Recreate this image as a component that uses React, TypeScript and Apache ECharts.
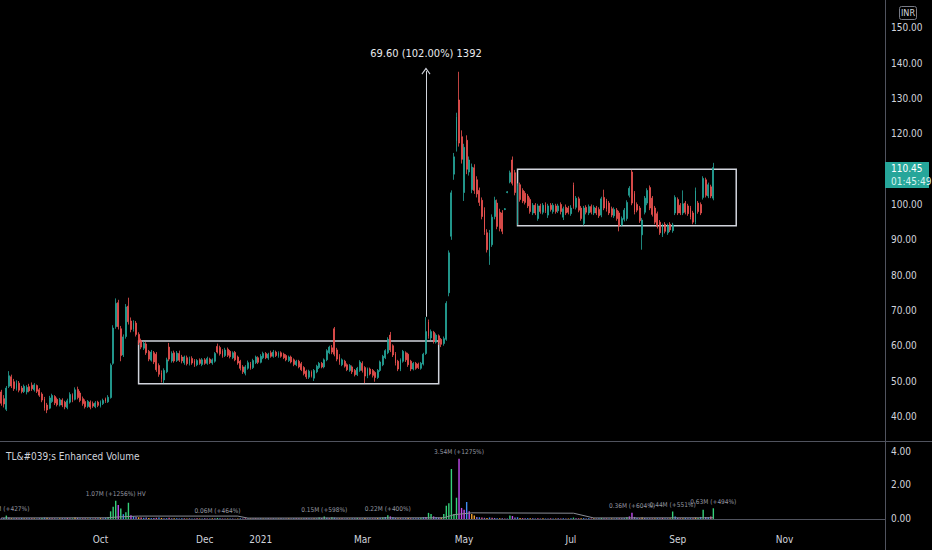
import React, { useEffect, useRef } from 'react';
import * as echarts from 'echarts';

// slots on the time axis (traded days plus empty space on the right)
const SLOTS = 348;
const monthTicks: Array<[number, string]> = [
  [39, 'Oct'], [80, 'Dec'], [102, '2021'], [142, 'Mar'],
  [182, 'May'], [224, 'Jul'], [266, 'Sep'], [308, 'Nov'],
];
// 110.00 sits under the last-price tag, so it is not listed
const priceTicks = [40, 50, 60, 70, 80, 90, 100, 120, 130, 140, 150];
const volumeTicks = [0, 2, 4];

// [open, close, low, high]
const candles = [
  [46.9,43.7,43.0,47.5],[45.0,43.5,42.5,46.0],[42.0,48.0,41.5,48.6],[48.5,51.5,48.0,52.8],[51.2,48.6,48.0,51.8],[49.8,47.8,47.2,50.6],[47.8,49.4,47.3,50.2],[49.4,47.4,46.8,50.0],[48.0,47.0,46.5,48.6],[47.0,48.5,46.6,49.0],
  [46.9,48.2,46.2,48.8],[48.4,47.2,46.8,49.2],[48.8,47.8,47.2,49.6],[47.5,48.9,47.0,49.4],[48.7,47.1,46.6,49.0],[47.5,46.0,45.5,48.0],[46.3,44.6,44.0,46.8],[45.0,42.2,41.6,45.5],[43.2,41.8,40.9,43.8],[42.3,45.2,42.0,45.8],
  [44.2,45.9,43.8,46.4],[45.6,43.8,43.2,46.0],[44.8,43.3,42.8,45.3],[43.2,44.7,42.8,45.2],[44.6,43.2,42.6,45.1],[44.0,42.7,42.0,44.4],[42.5,44.4,42.0,45.0],[44.0,46.2,43.6,46.8],[46.0,44.7,44.0,46.5],[44.8,47.5,44.5,48.2],
  [47.6,45.3,44.8,48.4],[46.6,44.5,44.0,47.2],[45.0,43.6,43.0,45.6],[44.2,42.7,42.2,44.8],[42.8,44.2,42.4,44.6],[44.0,42.6,42.0,44.5],[43.6,42.9,42.4,44.2],[42.7,43.8,42.3,44.3],[44.0,43.1,42.6,44.4],[42.9,44.0,42.5,44.5],
  [43.6,44.5,43.2,45.0],[44.9,44.2,43.8,45.3],[44.1,45.4,43.8,46.0],[45.3,54.5,45.0,55.0],[55.0,65.0,54.6,65.8],[65.4,72.0,64.8,73.4],[72.2,65.4,64.6,73.0],[64.8,57.2,55.6,65.6],[57.4,62.5,56.8,63.2],[62.6,71.0,62.0,71.8],
  [71.2,66.8,66.0,73.6],[67.0,64.6,63.8,68.0],[64.6,66.4,64.0,67.2],[66.4,63.2,62.6,67.0],[63.2,60.9,60.2,63.8],[61.4,59.6,59.0,62.0],[59.3,60.7,58.8,61.2],[60.5,58.0,57.4,61.0],[58.4,56.2,55.6,58.8],[55.9,58.2,55.5,58.8],
  [58.0,55.4,54.8,58.5],[57.6,53.2,52.6,58.2],[54.4,51.9,51.2,55.0],[52.4,50.6,49.6,53.0],[50.3,53.0,49.4,53.6],[52.6,56.0,52.2,56.6],[59.6,56.2,55.6,60.8],[55.7,57.8,55.2,58.4],[58.0,55.7,55.2,58.6],[55.8,57.9,55.4,58.5],
  [57.8,55.9,55.4,58.6],[56.8,55.7,55.0,57.4],[55.2,56.8,54.6,57.2],[56.6,54.9,54.4,57.2],[54.9,56.4,54.4,56.9],[56.4,55.1,54.6,57.0],[55.8,54.6,54.0,56.2],[54.6,55.8,54.2,56.2],[56.0,55.0,54.6,56.4],[54.7,56.0,54.2,56.5],
  [56.0,55.0,54.6,56.5],[55.0,56.4,54.6,56.9],[56.2,55.2,54.8,56.6],[55.1,56.0,54.6,56.4],[55.6,57.8,55.2,58.2],[59.8,58.2,57.8,60.6],[59.5,57.7,57.2,60.0],[58.6,57.1,56.6,59.0],[57.2,58.8,56.8,59.4],[59.0,57.3,56.8,59.5],
  [58.4,56.9,56.4,58.8],[56.6,58.0,56.2,58.4],[58.1,56.0,55.6,58.5],[56.8,55.1,54.6,57.2],[55.6,53.6,53.0,56.0],[54.0,52.6,52.0,54.5],[52.2,54.0,51.6,54.5],[53.6,55.2,53.2,55.8],[55.0,53.7,53.2,55.4],[53.8,55.8,53.4,56.3],
  [55.2,56.8,54.8,57.2],[56.6,55.3,54.8,57.0],[55.3,57.0,55.0,57.6],[56.6,57.8,56.2,58.3],[57.8,56.6,56.2,58.2],[56.5,57.6,56.0,58.0],[58.0,57.0,56.6,58.6],[57.0,58.2,56.6,58.8],[58.2,57.2,56.8,58.6],[57.1,58.0,56.6,58.4],
  [58.0,57.0,56.6,58.4],[57.6,56.6,56.2,58.0],[57.2,56.0,55.6,57.6],[55.8,56.8,55.4,57.2],[56.8,55.4,55.0,57.2],[56.0,54.7,54.2,56.4],[54.6,55.6,54.2,56.0],[55.6,54.0,53.6,56.0],[54.9,53.2,52.8,55.4],[53.8,52.1,51.6,54.2],
  [52.8,51.2,50.6,53.2],[51.1,52.8,50.6,53.2],[52.6,51.4,51.0,53.0],[50.8,53.0,50.0,53.4],[52.6,54.2,52.2,54.6],[53.8,55.0,53.4,55.4],[55.0,54.0,53.6,55.4],[54.0,56.0,53.6,56.4],[56.0,58.6,55.6,59.0],[58.0,59.6,57.6,60.0],
  [59.4,58.2,57.6,60.2],[64.8,57.6,57.0,65.3],[58.8,56.2,55.6,59.4],[57.0,55.2,54.6,57.6],[54.6,56.0,54.2,56.4],[55.6,54.2,53.8,56.0],[54.6,53.2,52.8,55.0],[53.0,54.4,52.6,54.8],[54.0,52.6,52.0,54.4],[53.0,51.8,51.3,53.4],
  [51.8,53.6,51.4,54.0],[53.0,55.4,52.6,55.9],[55.0,53.0,52.4,55.6],[53.8,51.4,49.4,54.2],[51.3,53.4,50.8,53.8],[53.4,52.0,51.6,53.8],[53.0,51.6,51.0,53.4],[52.4,51.0,49.8,52.8],[51.0,53.0,50.6,53.4],[53.0,55.4,52.6,55.8],
  [54.6,57.0,54.2,57.4],[56.6,58.6,56.2,59.0],[58.0,61.8,57.6,62.4],[63.0,58.8,58.2,63.9],[60.0,57.4,56.8,60.4],[57.8,55.0,54.4,58.2],[55.6,53.4,52.8,56.0],[53.2,56.0,52.8,56.4],[55.6,58.4,55.2,58.8],[58.0,56.0,55.4,58.4],
  [57.6,54.6,54.0,58.0],[55.6,53.4,52.8,56.0],[53.4,55.0,53.0,55.4],[55.0,53.6,53.2,55.4],[54.8,53.8,53.4,55.2],[53.6,55.0,53.2,55.4],[54.8,57.6,54.4,58.0],[57.8,64.0,57.4,68.1],[66.8,62.6,62.0,67.4],[62.2,64.0,61.6,64.6],
  [63.8,61.2,60.6,64.2],[61.0,63.0,60.6,63.5],[62.8,61.0,60.2,63.2],[61.8,60.4,59.6,62.2],[60.6,62.0,60.0,62.6],[61.8,72.0,61.4,72.6],[75.0,86.3,74.0,87.0],[91.0,103.3,90.0,104.0],[108.6,113.5,107.0,114.6],[118.0,124.8,115.0,126.0],
  [129.6,117.4,116.4,137.6],[119.2,112.8,111.6,121.0],[103.4,116.2,101.0,117.2],[118.2,110.0,108.6,119.6],[109.2,112.6,108.2,113.6],[104.2,110.6,103.2,111.6],[110.4,104.0,103.0,111.4],[107.0,103.0,102.0,108.0],[104.0,100.6,99.6,104.8],[101.2,96.6,95.8,102.0],
  [98.4,92.2,91.4,99.2],[92.0,87.2,86.4,93.0],[85.2,92.0,82.9,92.8],[88.6,96.4,88.0,97.2],[96.6,101.2,95.8,102.2],[100.4,93.8,93.0,101.4],[97.8,93.2,92.4,98.8],[97.6,92.4,91.6,98.4],[98.6,98.8,98.4,99.0],[103.4,103.6,103.2,103.8],
  [106.4,109.0,106.0,109.6],[112.6,106.0,105.4,113.6],[109.0,103.4,102.6,109.8],[94.8,105.4,94.2,106.0],[105.6,101.4,100.8,106.2],[104.0,101.0,100.4,104.6],[103.2,100.6,100.0,103.8],[102.4,99.6,99.0,103.0],[101.4,98.0,97.4,102.0],[97.6,99.8,97.0,100.4],
  [99.8,97.6,97.0,100.4],[96.0,99.6,95.4,100.2],[99.6,98.0,97.4,100.2],[97.8,99.8,97.2,100.4],[100.0,98.2,97.6,100.6],[97.0,99.6,96.2,100.2],[99.8,98.6,98.0,100.4],[98.0,99.8,97.4,100.4],[99.6,98.0,97.4,100.2],[98.2,99.6,97.6,100.2],
  [100.0,98.0,97.2,100.6],[96.4,98.8,95.6,99.4],[99.2,97.6,97.0,100.0],[99.0,97.8,97.2,99.6],[97.4,99.0,96.8,99.8],[105.6,99.4,98.8,106.2],[99.2,101.8,98.6,102.4],[101.6,98.4,97.8,102.2],[99.0,96.0,95.4,99.6],[94.6,99.0,94.0,99.6],
  [99.2,97.8,97.2,99.8],[97.6,99.4,97.0,100.0],[99.4,97.8,97.2,100.0],[97.6,99.2,97.0,99.8],[99.0,97.6,97.0,99.6],[98.6,96.8,96.2,99.2],[97.0,101.6,96.4,102.2],[102.0,99.0,98.4,104.2],[101.0,98.6,98.0,101.6],[100.4,97.6,97.0,101.0],
  [98.8,97.0,96.4,99.4],[96.8,98.6,96.2,99.2],[98.4,96.0,95.4,99.0],[97.6,94.0,92.4,98.2],[94.2,96.0,93.8,96.6],[95.8,98.4,95.2,99.0],[96.0,100.6,95.4,101.2],[102.6,104.6,102.0,105.2],[109.2,100.4,99.8,109.8],[103.2,97.8,97.2,103.8],
  [100.0,98.4,97.8,100.6],[99.0,95.4,94.8,99.6],[91.4,95.6,87.2,96.2],[97.8,101.8,97.2,102.4],[100.4,104.0,99.8,104.6],[104.8,99.0,98.4,105.4],[101.8,97.2,96.6,102.4],[99.0,95.0,94.4,99.6],[97.4,93.8,93.2,98.0],[95.0,92.0,91.4,95.6],
  [91.4,94.0,90.8,94.6],[94.4,92.4,91.8,95.0],[92.0,94.0,91.4,94.6],[94.4,92.8,92.2,95.0],[92.6,94.2,92.0,94.8],[97.6,102.0,97.0,102.6],[101.4,97.6,97.0,102.0],[99.8,97.6,97.0,100.4],[97.6,100.2,97.0,104.0],[100.4,97.8,97.2,101.0],
  [99.6,97.4,96.8,100.2],[99.0,96.4,95.8,99.6],[97.6,95.0,94.4,98.2],[95.0,104.0,94.4,104.8],[100.4,98.0,97.4,101.0],[100.0,97.6,97.0,100.6],[102.0,107.4,101.4,108.0],[107.0,102.6,102.0,107.6],[102.4,105.6,101.8,106.2],[105.0,102.4,101.8,105.6],[101.8,110.45,101.2,111.8],
];

// volume in millions
const volumes = [
  0.05,0.06,0.20,0.08,0.05,0.04,0.05,0.04,0.06,0.05,
  0.04,0.04,0.05,0.04,0.03,0.05,0.06,0.08,0.07,0.05,
  0.04,0.04,0.03,0.04,0.05,0.04,0.06,0.05,0.04,0.08,
  0.07,0.05,0.04,0.04,0.03,0.04,0.03,0.04,0.05,0.06,
  0.05,0.07,0.12,0.45,0.72,1.07,0.82,0.62,0.28,0.40,
  0.95,0.22,0.15,0.12,0.10,0.08,0.07,0.09,0.06,0.05,
  0.06,0.07,0.08,0.06,0.05,0.05,0.07,0.04,0.05,0.04,
  0.03,0.04,0.04,0.03,0.04,0.03,0.03,0.04,0.03,0.03,
  0.04,0.03,0.03,0.04,0.05,0.06,0.04,0.03,0.03,0.03,
  0.03,0.03,0.02,0.03,0.04,0.03,0.04,0.03,0.03,0.03,
  0.04,0.03,0.04,0.03,0.03,0.04,0.03,0.04,0.03,0.03,
  0.04,0.03,0.03,0.04,0.03,0.04,0.05,0.04,0.03,0.04,
  0.05,0.04,0.03,0.05,0.04,0.08,0.06,0.15,0.07,0.05,
  0.10,0.08,0.05,0.04,0.04,0.03,0.04,0.03,0.04,0.05,
  0.06,0.05,0.04,0.06,0.04,0.05,0.04,0.05,0.06,0.07,
  0.08,0.12,0.22,0.15,0.10,0.06,0.05,0.05,0.04,0.05,
  0.06,0.05,0.04,0.04,0.05,0.07,0.10,0.12,0.36,0.30,
  0.15,0.10,0.08,0.08,0.30,0.78,0.93,2.94,0.30,1.25,
  3.54,0.65,0.55,1.00,0.45,0.30,0.20,0.12,0.10,0.08,
  0.07,0.06,0.09,0.07,0.06,0.05,0.05,0.04,0.03,0.03,
  0.20,0.18,0.08,0.10,0.06,0.05,0.04,0.05,0.04,0.04,
  0.03,0.04,0.03,0.04,0.03,0.03,0.04,0.03,0.03,0.04,
  0.03,0.04,0.03,0.03,0.04,0.08,0.05,0.04,0.04,0.05,
  0.03,0.04,0.03,0.04,0.03,0.04,0.06,0.05,0.04,0.03,
  0.04,0.03,0.04,0.05,0.04,0.05,0.10,0.15,0.36,0.12,
  0.06,0.05,0.08,0.06,0.05,0.05,0.04,0.04,0.05,0.05,
  0.06,0.05,0.04,0.05,0.44,0.15,0.06,0.05,0.05,0.06,
  0.05,0.05,0.04,0.08,0.06,0.12,0.55,0.12,0.10,0.15,0.63,
];

// one colour code per volume bar
const volumeColors =
  'pbgpobkpbo' + 'pbkobpgbop' + 'kpbopbkpgo' + 'pbkpobpkbo' + 'pbggggmgbg' +
  'gmbpokbpob' + 'pkbopbkpob' + 'pbkopbpkob' + 'pkbopgbkpo' + 'bpkobpkbop' +
  'kpbobpkpbo' + 'pbkopbkpob' + 'kbpobgpgbk' + 'gbpokbpobp' + 'gkbopbkpob' +
  'gbgmbpokbp' + 'okbpbgbmgg' + 'mbpogggggg' + 'mmmbmoopbk' + 'pobkpbopkb' +
  'gmpbokpbop' + 'bkpobpkbop' + 'kbpobgpkob' + 'pbkopbgpkb' + 'opbkpbgmmp' +
  'bkopbpkobp' + 'kbpogbpkob' + 'pbkogbgpbkg';

const palette: Record<string, string> = {
  g: '#35d07a',
  m: '#c24cf0',
  b: '#3d8bf2',
  o: '#f0a030',
  p: '#8c6cd9',
  k: '#e45a9b',
};

const volumeLabels: Array<[number, string]> = [
  [2, '0.20M (+427%)'],
  [45, '1.07M (+1256%) HV'],
  [85, '0.06M (+464%)'],
  [127, '0.15M (+598%)'],
  [152, '0.22M (+400%)'],
  [180, '3.54M (+1275%)'],
  [248, '0.36M (+604%)'],
  [264, '0.44M (+551%)'],
  [280, '0.63M (+494%)'],
];

// average volume line vertices [slot, value]
const volumeAvg: Array<[number, number]> = [
  [0, 0.06], [42, 0.07], [46, 0.12], [54, 0.17], [93, 0.17], [97, 0.05],
  [174, 0.07], [178, 0.25], [185, 0.36], [225, 0.34], [233, 0.06], [280, 0.07],
];

// [slot from, low price, slot to, high price]
const rangeBoxes: Array<[number, number, number, number]> = [
  [53.9, 49.2, 171.8, 61.3],
  [202.8, 94.0, 288.8, 110.0],
];

const moveSlot = 167;
const moveFrom = 68.2;
const moveTo = 137.8;
const moveText = '69.60 (102.00%) 1392';

const lastPrice = 110.45;
const countdown = '01:45:49';

const FONT = "'Liberation Sans Narrow', 'DejaVu Sans Condensed', 'Liberation Sans', sans-serif";
const TEXT = '#d1d4dc';
const LINE = '#50535e';

const App: React.FC = () => {
  const chartRef = useRef<HTMLDivElement>(null);

  useEffect(() => {
    if (!chartRef.current) return;
    const chart = echarts.init(chartRef.current, null, { renderer: 'svg' });

    const slots = Array.from({ length: SLOTS }, (_, i) => String(i));
    const tickMap = new Map(monthTicks);
    const labelMap = new Map(volumeLabels);

    const volumeData = volumes.map((v, i) => {
      const item: any = { value: v, itemStyle: { color: palette[volumeColors[i]] || '#8c6cd9' } };
      if (labelMap.has(i)) item.label = { show: true, formatter: labelMap.get(i) };
      return item;
    });

    const option: any = {
      animation: false,
      backgroundColor: '#000000',
      textStyle: { fontFamily: FONT },
      grid: [
        { left: 0, right: 47, top: 0, height: 440 },
        { left: 0, right: 47, top: 442, height: 87 },
      ],
      xAxis: [
        { type: 'category', gridIndex: 0, data: slots, show: false },
        {
          type: 'category',
          gridIndex: 1,
          data: slots,
          axisLine: { lineStyle: { color: LINE } },
          axisTick: { show: false },
          axisLabel: {
            interval: (i: number) => tickMap.has(i),
            formatter: (_: string, i: number) => tickMap.get(i) || '',
            color: TEXT,
            fontSize: 10,
            margin: 5,
          },
        },
      ],
      yAxis: [
        {
          type: 'value',
          gridIndex: 0,
          position: 'right',
          min: 33.29,
          max: 157.93,
          axisLine: { show: false },
          axisTick: { show: false },
          splitLine: { show: false },
          axisLabel: {
            customValues: priceTicks,
            formatter: (v: number) => v.toFixed(2),
            color: TEXT,
            fontSize: 10,
            margin: 6,
          },
        },
        {
          type: 'value',
          gridIndex: 1,
          position: 'right',
          min: -0.59,
          max: 4.53,
          axisLine: { show: false },
          axisTick: { show: false },
          splitLine: { show: false },
          axisLabel: {
            customValues: volumeTicks,
            formatter: (v: number) => v.toFixed(2),
            color: TEXT,
            fontSize: 10,
            margin: 6,
          },
        },
      ],
      series: [
        {
          type: 'candlestick',
          xAxisIndex: 0,
          yAxisIndex: 0,
          data: candles,
          barWidth: 1.4,
          itemStyle: {
            color: '#26a69a',
            color0: '#ef5350',
            borderColor: '#26a69a',
            borderColor0: '#ef5350',
            borderWidth: 0.8,
          },
          markArea: {
            silent: true,
            itemStyle: { color: 'rgba(0,0,0,0)', borderColor: '#d1d4dc', borderWidth: 1.5 },
            data: rangeBoxes.map((b) => [{ coord: [b[0], b[1]] }, { coord: [b[2], b[3]] }]),
          },
          markLine: {
            silent: true,
            symbol: ['none', 'path://M0 0 L5 6 L4.1 6.8 L0 1.9 L-4.1 6.8 L-5 6 Z'],
            symbolSize: [9, 7],
            lineStyle: { color: '#d1d4dc', width: 1, type: 'solid' },
            label: {
              show: true,
              position: 'end',
              formatter: moveText,
              color: '#e8eaed',
              fontSize: 11,
              distance: 12,
            },
            data: [[{ coord: [moveSlot, moveFrom] }, { coord: [moveSlot, moveTo] }]],
          },
        },
        {
          type: 'bar',
          xAxisIndex: 1,
          yAxisIndex: 1,
          barWidth: 1.4,
          data: volumeData,
          label: { position: 'top', distance: 3, fontSize: 6.5, color: '#9598a1' },
        },
        {
          type: 'line',
          xAxisIndex: 1,
          yAxisIndex: 1,
          data: volumeAvg,
          symbol: 'none',
          lineStyle: { color: '#8a8d96', width: 1 },
          z: 3,
        },
      ],
    };

    chart.setOption(option);

    const tagY = chart.convertToPixel({ yAxisIndex: 0 }, lastPrice) as number;

    chart.setOption({
      graphic: [
        { type: 'line', shape: { x1: 0, y1: 441.5, x2: 932, y2: 441.5 }, style: { stroke: LINE, lineWidth: 1 } },
        { type: 'line', shape: { x1: 885.5, y1: 0, x2: 885.5, y2: 550 }, style: { stroke: LINE, lineWidth: 1 } },
        {
          type: 'rect',
          shape: { x: 899.5, y: 6.5, width: 17, height: 13, r: 2 },
          style: { fill: 'none', stroke: '#787b86', lineWidth: 1 },
        },
        {
          type: 'text',
          x: 908,
          y: 13,
          style: { text: 'INR', fill: TEXT, fontSize: 9, fontFamily: FONT, align: 'center', verticalAlign: 'middle' },
        },
        {
          type: 'text',
          x: 6,
          y: 456,
          style: {
            text: 'TL&#039;s Enhanced Volume',
            fill: TEXT,
            fontSize: 10,
            fontFamily: FONT,
            verticalAlign: 'middle',
          },
        },
        {
          type: 'rect',
          shape: { x: 885, y: tagY - 5.5, width: 44, height: 26 },
          style: { fill: '#26a69a' },
        },
        {
          type: 'text',
          x: 891,
          y: tagY + 1,
          style: { text: String(lastPrice), fill: '#ffffff', fontSize: 10, fontFamily: FONT, verticalAlign: 'middle' },
        },
        {
          type: 'text',
          x: 891,
          y: tagY + 13.5,
          style: { text: countdown, fill: '#d8f3ef', fontSize: 10, fontFamily: FONT, verticalAlign: 'middle' },
        },
      ],
    });

    return () => {
      chart.dispose();
    };
  }, []);

  return (
    <div
      ref={chartRef}
      style={{ position: 'fixed', left: 0, top: 0, width: 932, height: 550, background: '#000' }}
    />
  );
};

export default App;
